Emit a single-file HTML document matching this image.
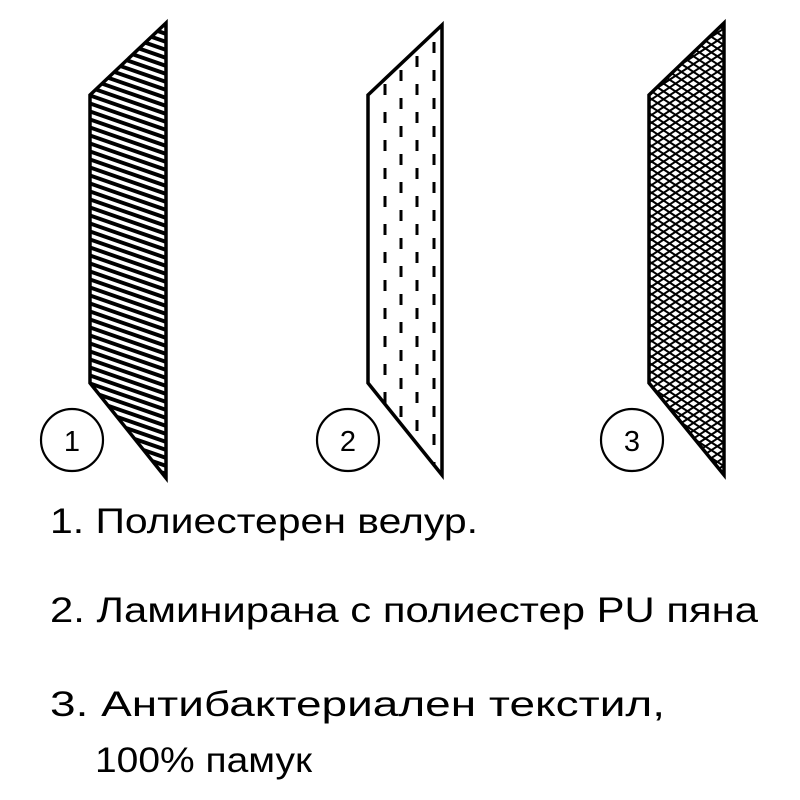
<!DOCTYPE html>
<html><head><meta charset="utf-8"><style>html,body{margin:0;padding:0;background:#fff}svg{display:block}</style></head>
<body>
<svg width="800" height="800" viewBox="0 0 800 800" xmlns="http://www.w3.org/2000/svg">
<defs>
<clipPath id="c1"><polygon points="166,23 90,95 90,383 166,478"/></clipPath>
<clipPath id="c2"><polygon points="442,25 368,95 368,383 442,475"/></clipPath>
<clipPath id="c3"><polygon points="724,23 649,95 649,383 724,475"/></clipPath>
</defs>
<g clip-path="url(#c1)" stroke="#000" stroke-width="3.9">
<g id="st"></g>
</g>
<g clip-path="url(#c2)" stroke="#000" stroke-width="3" stroke-dasharray="11 17">
<line x1="385" y1="0" x2="385" y2="480"/>
<line x1="401" y1="14" x2="401" y2="480"/>
<line x1="417" y1="0" x2="417" y2="480"/>
<line x1="434" y1="14" x2="434" y2="480"/>
</g>
<g clip-path="url(#c3)" stroke="#000" stroke-width="2" id="xh"></g>
<g fill="none" stroke="#000" stroke-width="3.5" stroke-linejoin="miter">
<polygon points="166,23 90,95 90,383 166,478"/>
<polygon points="442,25 368,95 368,383 442,475"/>
<polygon points="724,23 649,95 649,383 724,475"/>
</g>
<g fill="none" stroke="#000" stroke-width="2.2">
<circle cx="72" cy="440" r="31"/>
<circle cx="348" cy="440" r="31"/>
<circle cx="632" cy="440" r="31"/>
</g>
<g font-family="Liberation Sans, DejaVu Sans, sans-serif" fill="#000">
<text x="72" y="451" font-size="29" text-anchor="middle">1</text>
<text x="348" y="451" font-size="29" text-anchor="middle">2</text>
<text x="632" y="451" font-size="29" text-anchor="middle">3</text>
<text x="50" y="533" font-size="35" textLength="428" lengthAdjust="spacingAndGlyphs">1. Полиестерен велур.</text>
<text x="50" y="622" font-size="35" textLength="708" lengthAdjust="spacingAndGlyphs">2. Ламинирана с полиестер PU пяна</text>
<text x="50" y="716" font-size="35" textLength="615" lengthAdjust="spacingAndGlyphs">3. Антибактериален текстил,</text>
<text x="95" y="772" font-size="35" textLength="217" lengthAdjust="spacingAndGlyphs">100% памук</text>
</g>
</svg>
<script>
var ns="http://www.w3.org/2000/svg";
var st=document.getElementById("st");
for(var y=-60;y<520;y+=8){var l=document.createElementNS(ns,"line");l.setAttribute("x1",80);l.setAttribute("y1",y);l.setAttribute("x2",175);l.setAttribute("y2",y+33);st.appendChild(l);}
var xh=document.getElementById("xh");
for(var y=-80;y<560;y+=7.8){
 var a=document.createElementNS(ns,"line");a.setAttribute("x1",640);a.setAttribute("y1",y);a.setAttribute("x2",735);a.setAttribute("y2",y+62);xh.appendChild(a);
 var b=document.createElementNS(ns,"line");b.setAttribute("x1",640);b.setAttribute("y1",y+62);b.setAttribute("x2",735);b.setAttribute("y2",y);xh.appendChild(b);
}
</script>
</body></html>
